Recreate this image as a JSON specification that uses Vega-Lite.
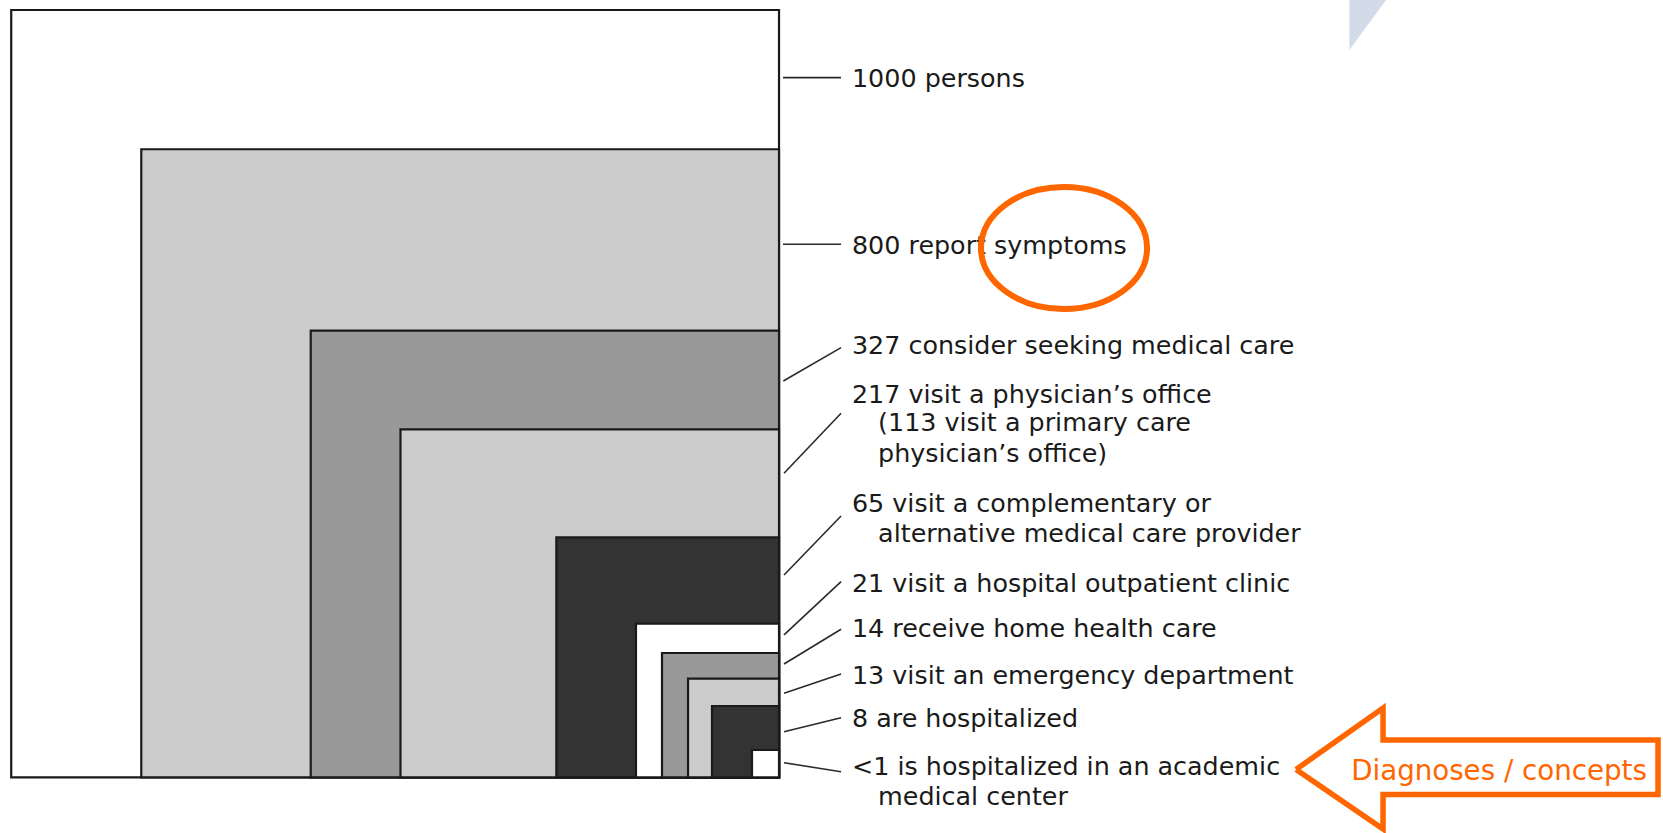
{
  "$schema": "https://vega.github.io/schema/vega-lite/v6.json",
  "width": 1663,
  "height": 833,
  "autosize": {"type": "none"},
  "padding": 0,
  "background": "white",
  "config": {"view": {"stroke": null}},
  "datasets": {
    "squares": [
      {"group": "1000 persons", "left": 0, "right": 1000, "top": 1000, "bottom": 0, "tone": "white"},
      {"group": "800 report symptoms", "left": 169.4, "right": 1000, "top": 818.5, "bottom": 0, "tone": "light"},
      {"group": "327 consider seeking care", "left": 390.1, "right": 1000, "top": 582.0, "bottom": 0, "tone": "medium"},
      {"group": "217 physician office", "left": 507.0, "right": 1000, "top": 453.5, "bottom": 0, "tone": "light"},
      {"group": "65 complementary", "left": 710.0, "right": 1000, "top": 312.8, "bottom": 0, "tone": "dark"},
      {"group": "21 outpatient", "left": 813.7, "right": 1000, "top": 200.2, "bottom": 0, "tone": "white"},
      {"group": "14 home health", "left": 847.6, "right": 1000, "top": 162.0, "bottom": 0, "tone": "medium"},
      {"group": "13 emergency", "left": 881.5, "right": 1000, "top": 128.5, "bottom": 0, "tone": "light"},
      {"group": "8 hospitalized", "left": 912.7, "right": 1000, "top": 92.9, "bottom": 0, "tone": "dark"},
      {"group": "<1 academic", "left": 964.8, "right": 1000, "top": 35.6, "bottom": 0, "tone": "white"}
    ],
    "leaders": [
      {"x": 1005.2, "y": 911.8, "x2": 1080.8, "y2": 911.8},
      {"x": 1005.2, "y": 694.6, "x2": 1080.8, "y2": 694.6},
      {"x": 1005.6, "y": 516.5, "x2": 1080.8, "y2": 559.9},
      {"x": 1006.5, "y": 396.2, "x2": 1080.8, "y2": 474.4},
      {"x": 1006.5, "y": 263.7, "x2": 1080.8, "y2": 340.5},
      {"x": 1006.5, "y": 185.5, "x2": 1080.8, "y2": 254.9},
      {"x": 1006.5, "y": 147.7, "x2": 1080.8, "y2": 192.9},
      {"x": 1006.5, "y": 109.5, "x2": 1080.8, "y2": 134.6},
      {"x": 1006.5, "y": 59.4, "x2": 1080.8, "y2": 77.7},
      {"x": 1006.5, "y": 19.0, "x2": 1080.8, "y2": 7.3}
    ],
    "labels": [
      {"t": "1000 persons", "x": 1095, "y": 899.0},
      {"t": "800 report symptoms", "x": 1095, "y": 682.0},
      {"t": "327 consider seeking medical care", "x": 1095, "y": 551.7},
      {"t": "217 visit a physician’s office", "x": 1095, "y": 487.8},
      {"t": "(113 visit a primary care", "x": 1129, "y": 450.7},
      {"t": "physician’s office)", "x": 1129, "y": 410.9},
      {"t": "65 visit a complementary or", "x": 1095, "y": 345.8},
      {"t": "alternative medical care provider", "x": 1129, "y": 306.7},
      {"t": "21 visit a hospital outpatient clinic", "x": 1095, "y": 242.1},
      {"t": "14 receive home health care", "x": 1095, "y": 182.2},
      {"t": "13 visit an emergency department", "x": 1095, "y": 122.2},
      {"t": "8 are hospitalized", "x": 1095, "y": 64.9},
      {"t": "<1 is hospitalized in an academic", "x": 1095, "y": 3.6},
      {"t": "medical center", "x": 1129, "y": -36.1}
    ],
    "ellipse": [{"x": 1371.2, "y": 689.8}],
    "arrow": [
      {"i": 0, "x": 1673.4, "y": 10.2},
      {"i": 1, "x": 1786.7, "y": 90.3},
      {"i": 2, "x": 1786.7, "y": 48.6},
      {"i": 3, "x": 2144.8, "y": 48.6},
      {"i": 4, "x": 2144.8, "y": -22.4},
      {"i": 5, "x": 1786.7, "y": -22.4},
      {"i": 6, "x": 1786.7, "y": -67.4},
      {"i": 7, "x": 1673.4, "y": 10.2}
    ],
    "arrowText": [{"t": "Diagnoses / concepts", "x": 1937.7, "y": -3.5}],
    "pattern": [
      {"x": 1742.8, "y": 1013.0, "y2": 947.9},
      {"x": 1790.6, "y": 1013.0, "y2": 1013.0}
    ]
  },
  "layer": [
    {
      "data": {"name": "squares"},
      "mark": {"type": "rect", "stroke": "#1a1a1a", "strokeWidth": 2.2},
      "encoding": {
        "x": {"field": "left", "type": "quantitative", "scale": {"domain": [-14.6, 2151.3], "nice": false, "zero": false}, "axis": null},
        "x2": {"field": "right"},
        "y": {"field": "top", "type": "quantitative", "scale": {"domain": [-72.6, 1013.0], "nice": false, "zero": false}, "axis": null},
        "y2": {"field": "bottom"},
        "fill": {"field": "tone", "type": "nominal", "scale": {"domain": ["white", "light", "medium", "dark"], "range": ["#ffffff", "#cccccc", "#999999", "#333333"]}, "legend": null}
      }
    },
    {
      "data": {"name": "leaders"},
      "mark": {"type": "rule", "color": "#2a2a2a", "strokeWidth": 1.6},
      "encoding": {
        "x": {"field": "x", "type": "quantitative", "scale": {"domain": [-14.6, 2151.3], "nice": false, "zero": false}, "axis": null},
        "x2": {"field": "x2"},
        "y": {"field": "y", "type": "quantitative", "scale": {"domain": [-72.6, 1013.0], "nice": false, "zero": false}, "axis": null},
        "y2": {"field": "y2"}
      }
    },
    {
      "data": {"name": "labels"},
      "mark": {"type": "text", "font": "DejaVu Sans", "fontSize": 25.4, "align": "left", "baseline": "alphabetic", "color": "#1a1a1a"},
      "encoding": {
        "x": {"field": "x", "type": "quantitative", "scale": {"domain": [-14.6, 2151.3], "nice": false, "zero": false}, "axis": null},
        "y": {"field": "y", "type": "quantitative", "scale": {"domain": [-72.6, 1013.0], "nice": false, "zero": false}, "axis": null},
        "text": {"field": "t"}
      }
    },
    {
      "data": {"name": "pattern"},
      "mark": {"type": "area", "color": "#d3dbe8", "opacity": 1},
      "encoding": {
        "x": {"field": "x", "type": "quantitative", "scale": {"domain": [-14.6, 2151.3], "nice": false, "zero": false}, "axis": null},
        "y": {"field": "y", "type": "quantitative", "scale": {"domain": [-72.6, 1013.0], "nice": false, "zero": false}, "axis": null},
        "y2": {"field": "y2"}
      }
    },
    {
      "data": {"name": "ellipse"},
      "mark": {"type": "point", "shape": "M 1 0 C 1 0.406 0.5523 0.735 0 0.735 C -0.5523 0.735 -1 0.406 -1 0 C -1 -0.406 -0.5523 -0.735 0 -0.735 C 0.5523 -0.735 1 -0.406 1 0 Z", "size": 27556, "filled": false, "color": "#ff6600", "strokeWidth": 6, "opacity": 1},
      "encoding": {
        "x": {"field": "x", "type": "quantitative", "scale": {"domain": [-14.6, 2151.3], "nice": false, "zero": false}, "axis": null},
        "y": {"field": "y", "type": "quantitative", "scale": {"domain": [-72.6, 1013.0], "nice": false, "zero": false}, "axis": null}
      }
    },
    {
      "data": {"name": "arrow"},
      "mark": {"type": "line", "color": "#ff6600", "strokeWidth": 5.5, "strokeJoin": "miter", "strokeMiterLimit": 10},
      "encoding": {
        "x": {"field": "x", "type": "quantitative", "scale": {"domain": [-14.6, 2151.3], "nice": false, "zero": false}, "axis": null},
        "y": {"field": "y", "type": "quantitative", "scale": {"domain": [-72.6, 1013.0], "nice": false, "zero": false}, "axis": null},
        "order": {"field": "i", "type": "quantitative"}
      }
    },
    {
      "data": {"name": "arrowText"},
      "mark": {"type": "text", "font": "DejaVu Sans", "fontSize": 27.7, "align": "center", "baseline": "alphabetic", "color": "#ff6600"},
      "encoding": {
        "x": {"field": "x", "type": "quantitative", "scale": {"domain": [-14.6, 2151.3], "nice": false, "zero": false}, "axis": null},
        "y": {"field": "y", "type": "quantitative", "scale": {"domain": [-72.6, 1013.0], "nice": false, "zero": false}, "axis": null},
        "text": {"field": "t"}
      }
    }
  ]
}
